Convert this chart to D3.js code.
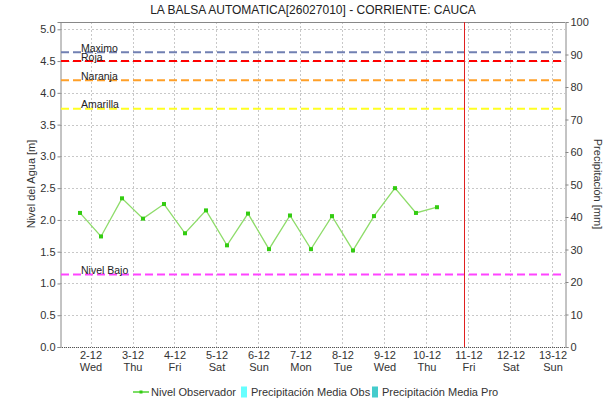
<!DOCTYPE html>
<html>
<head>
<meta charset="utf-8">
<script src="https://cdn.jsdelivr.net/npm/d3@7"></script>
<style>
  html, body { margin: 0; padding: 0; background: #fff; }
  svg { display: block; font-family: "Liberation Sans", Arial, sans-serif; }
</style>
</head>
<body>
<svg id="chart" width="607" height="401"></svg>
<script>
// Observed water level, every 12 hours (06:00 / 18:00)
const obsTimes = [
  "2020-12-01T18:00", "2020-12-02T06:00", "2020-12-02T18:00", "2020-12-03T06:00",
  "2020-12-03T18:00", "2020-12-04T06:00", "2020-12-04T18:00", "2020-12-05T06:00",
  "2020-12-05T18:00", "2020-12-06T06:00", "2020-12-06T18:00", "2020-12-07T06:00",
  "2020-12-07T18:00", "2020-12-08T06:00", "2020-12-08T18:00", "2020-12-09T06:00",
  "2020-12-09T18:00", "2020-12-10T06:00"
];
const obsLevels = [
  2.11, 1.74, 2.34, 2.02, 2.25, 1.79, 2.15, 1.60,
  2.10, 1.54, 2.07, 1.54, 2.06, 1.52, 2.06, 2.50,
  2.11, 2.20
];

// Alert thresholds [m]
const thresholdNames  = ["Maximo", "Roja", "Naranja", "Amarilla", "Nivel Bajo"];
const thresholdValues = [4.64, 4.5, 4.2, 3.75, 1.14];
const thresholdColors = ["#7180b2", "#ff0000", "#ffa028", "#ffff22", "#ff44ff"];

// Axis tick values
const levelTicks = [0, 0.5, 1, 1.5, 2, 2.5, 3, 3.5, 4, 4.5, 5];
const rainTicks = [0, 10, 20, 30, 40, 50, 60, 70, 80, 90, 100];
const dayTicks = [
  "2020-12-02", "2020-12-03", "2020-12-04", "2020-12-05", "2020-12-06", "2020-12-07",
  "2020-12-08", "2020-12-09", "2020-12-10", "2020-12-11", "2020-12-12", "2020-12-13"
];
const dayNames = ["Sun", "Mon", "Tue", "Wed", "Thu", "Fri", "Sat"];

// Current time marker
const nowTime = "2020-12-10T21:25";

const legendItems = [
  { label: "Nivel Observador", type: "line", color: "#33cc11" },
  { label: "Precipitación Media Obs", type: "box", color: "#66ffff" },
  { label: "Precipitación Media Pro", type: "box", color: "#44cccc" }
];

const parse = d3.timeParse("%Y-%m-%dT%H:%M");
const parseDay = d3.timeParse("%Y-%m-%d");

const svg = d3.select("#chart");
const W = 607, H = 401;
const plot = { left: 60, right: 565, top: 22, bottom: 347 };

svg.append("rect").attr("width", W).attr("height", H).attr("fill", "#fff");

const x = d3.scaleTime()
  .domain([parse("2020-12-01T06:34"), parse("2020-12-13T07:10")])
  .range([plot.left, plot.right]);
const yL = d3.scaleLinear().domain([0, 5.115]).range([plot.bottom, plot.top]);
const yR = d3.scaleLinear().domain([0, 100]).range([plot.bottom, plot.top]);

// Grid
const grid = svg.append("g");
grid.selectAll("line.h").data(levelTicks).join("line")
  .attr("x1", plot.left).attr("x2", plot.right)
  .attr("y1", d => Math.round(yL(d)) + 0.5).attr("y2", d => Math.round(yL(d)) + 0.5)
  .attr("stroke", "#c8c8c8").attr("stroke-dasharray", "2,2");
grid.selectAll("line.v").data(dayTicks).join("line")
  .attr("x1", d => Math.round(x(parseDay(d))) + 0.5).attr("x2", d => Math.round(x(parseDay(d))) + 0.5)
  .attr("y1", plot.top).attr("y2", plot.bottom)
  .attr("stroke", "#c8c8c8").attr("stroke-dasharray", "2,2");

// Plot outline
svg.append("line").attr("x1", plot.left).attr("x2", plot.right)
  .attr("y1", plot.top + 0.5).attr("y2", plot.top + 0.5).attr("stroke", "#888");
svg.append("line").attr("x1", plot.left).attr("x2", plot.right)
  .attr("y1", plot.bottom + 0.5).attr("y2", plot.bottom + 0.5)
  .attr("stroke", "#555").attr("stroke-dasharray", "1,1");

// Left axis
const axL = svg.append("g").attr("transform", `translate(${plot.left + 0.5},0)`)
  .call(d3.axisLeft(yL).tickValues(levelTicks).tickFormat(d3.format(".1f")).tickSize(3).tickPadding(2));
axL.select(".domain").attr("stroke", "#888");
axL.selectAll(".tick line").attr("stroke", "#888");
axL.selectAll("text").attr("font-size", 11).attr("fill", "#333").attr("font-family", "Liberation Sans, Arial, sans-serif");

// Right axis
const axR = svg.append("g").attr("transform", `translate(${plot.right + 0.5},0)`)
  .call(d3.axisRight(yR).tickValues(rainTicks).tickSize(3).tickPadding(2));
axR.select(".domain").attr("stroke", "#888");
axR.selectAll(".tick line").attr("stroke", "#888");
axR.selectAll("text").attr("font-size", 11).attr("fill", "#333").attr("font-family", "Liberation Sans, Arial, sans-serif");

// Bottom axis labels: date and weekday
const axB = svg.append("g").attr("transform", `translate(0,${plot.bottom})`)
  .call(d3.axisBottom(x).tickValues(dayTicks.map(parseDay)).tickSize(0).tickPadding(4)
    .tickFormat(d3.timeFormat("%-d-%m")));
axB.select(".domain").remove();
axB.selectAll(".tick text")
  .attr("font-size", 11).attr("fill", "#333").attr("font-family", "Liberation Sans, Arial, sans-serif")
  .each(function(d) {
    const t = d3.select(this);
    const lbl = d3.timeFormat("%-d-%m")(d);
    t.text(null);
    t.append("tspan").attr("x", 0).attr("dy", "0.71em").text(lbl.replace(/-0?/, "-").replace(/^(\d+)-(\d+)$/, (m, a, b) => a + "-" + (+b)));
    t.append("tspan").attr("x", 0).attr("dy", "1.15em").text(dayNames[d.getDay()]);
  })
  .attr("y", 4).attr("dy", null);

// Threshold lines and labels
const thr = svg.append("g");
thresholdValues.forEach((v, i) => {
  const yy = yL(v);
  thr.append("line").attr("x1", plot.left + 1).attr("x2", plot.right)
    .attr("y1", yy).attr("y2", yy)
    .attr("stroke", thresholdColors[i]).attr("stroke-width", 2).attr("stroke-dasharray", "8,4");
  thr.append("text").attr("x", 81).attr("y", yy - 0.5)
    .attr("font-size", 10.5).attr("fill", "#222").text(thresholdNames[i]);
});

// Current time marker
svg.append("line")
  .attr("x1", Math.round(x(parse(nowTime))) + 0.5).attr("x2", Math.round(x(parse(nowTime))) + 0.5)
  .attr("y1", plot.top).attr("y2", plot.bottom)
  .attr("stroke", "#e02020").attr("stroke-width", 1);

// Observed level series
const pts = obsTimes.map((t, i) => ({ t: parse(t), v: obsLevels[i] }));
svg.append("path").datum(pts)
  .attr("fill", "none").attr("stroke", "#8edc6a").attr("stroke-width", 1.3)
  .attr("d", d3.line().x(d => x(d.t)).y(d => yL(d.v)));
svg.append("g").selectAll("rect").data(pts).join("rect")
  .attr("x", d => x(d.t) - 2).attr("y", d => yL(d.v) - 2)
  .attr("width", 4).attr("height", 4).attr("fill", "#33cc11");

// Axis titles
svg.append("text").attr("transform", "translate(35,184) rotate(-90)")
  .attr("text-anchor", "middle").attr("font-size", 11).attr("fill", "#333")
  .text("Nivel del Agua [m]");
svg.append("text").attr("transform", "translate(594,184) rotate(90)")
  .attr("text-anchor", "middle").attr("font-size", 11).attr("fill", "#333")
  .text("Precipitación [mm]");

// Title
svg.append("text").attr("x", 313).attr("y", 14)
  .attr("text-anchor", "middle").attr("font-size", 12).attr("fill", "#222")
  .text("LA BALSA AUTOMATICA[26027010] - CORRIENTE: CAUCA");

// Legend
const leg = svg.append("g");
const legPos = [133, 241, 372];
legendItems.forEach((it, i) => {
  const g = leg.append("g").attr("transform", `translate(${legPos[i]},0)`);
  let tx;
  if (it.type === "line") {
    g.append("line").attr("x1", 0).attr("x2", 16).attr("y1", 392).attr("y2", 392)
      .attr("stroke", it.color).attr("stroke-width", 1.3);
    g.append("rect").attr("x", 6.5).attr("y", 390.5).attr("width", 3).attr("height", 3).attr("fill", it.color);
    tx = 18;
  } else {
    g.append("rect").attr("x", 0).attr("y", 386.5).attr("width", 6).attr("height", 11).attr("fill", it.color);
    tx = 10;
  }
  g.append("text").attr("x", tx).attr("y", 396).attr("font-size", 11).attr("fill", "#333").text(it.label);
});
</script>
</body>
</html>
